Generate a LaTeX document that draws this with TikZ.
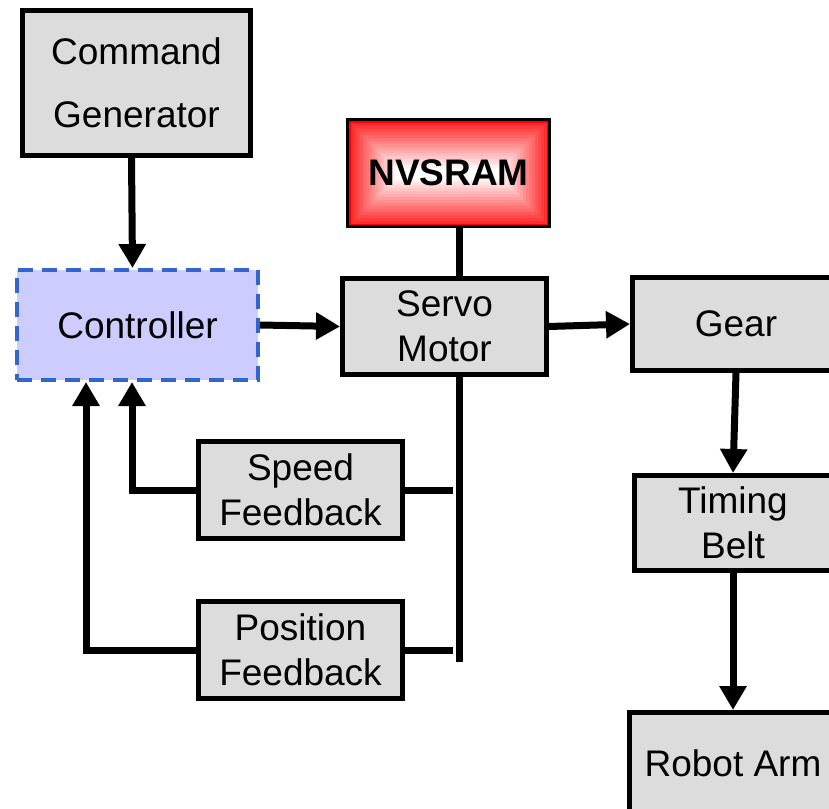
\documentclass[tikz,border=0pt]{standalone}
\usepackage{fontspec}
\setmainfont{Liberation Sans}
\usetikzlibrary{arrows.meta}
\definecolor{boxgray}{RGB}{220,220,220}
\definecolor{ctrlfill}{RGB}{204,204,255}
\definecolor{ctrlline}{RGB}{51,102,204}
\tikzset{%
  every block/.style={
    rectangle,
    draw,
    line width=5pt,
    fill=boxgray,
    align=center,
    font=\fontsize{37}{45}\selectfont
  },
  ctrl block/.style={
    every block,
    draw=ctrlline,
    line width=4pt,
    dash pattern=on 15pt off 9pt,
    fill=ctrlfill
  },
  ram block/.style={
    every block,
    line width=3pt,
    fill=red,
    font=\fontsize{37}{45}\selectfont\bfseries,
    path picture={
      \foreach \i in {1,...,16}
        {\pgfmathtruncatemacro\redpct{88-5.5*\i}
         \fill[red!\redpct!white]
           ([shift={(3*\i pt,-3*\i pt)}]path picture bounding box.north west)
           rectangle ([shift={(-3*\i pt,3*\i pt)}]path picture bounding box.south east);}
    }
  },
  wire/.style={line width=7pt},
  link/.style={line width=7pt, -{Triangle[length=24pt,width=26pt]}}
}

\begin{document}
\begin{tikzpicture}[x=1pt, y=-1pt]
\clip (0,0) rectangle (829,808);
% blocks
\node[every block, minimum width=228, minimum height=145, font=\fontsize{37}{63}\selectfont] (cmdgen) at (136.5,83) {Command\\Generator};
\node[ram block, minimum width=202, minimum height=107] (nvsram) at (448.5,173) {NVSRAM};
\node[ctrl block, minimum width=241, minimum height=110] (ctrl) at (137.5,325) {Controller};
\node[every block, minimum width=204, minimum height=96] (servo) at (444.5,326.5) {Servo\\Motor};
\node[every block, minimum width=207, minimum height=93] (gear) at (736,324) {Gear};
\node[every block, minimum width=197, minimum height=95] (belt) at (733,523) {Timing\\Belt};
\node[every block, minimum width=207, minimum height=101] (arm) at (733,763) {Robot Arm};
\node[every block, minimum width=204, minimum height=97] (speedfb) at (300.5,490) {Speed\\Feedback};
\node[every block, minimum width=204, minimum height=97] (posfb) at (300.5,650) {Position\\Feedback};
\coordinate (bustop) at (459,377);
\coordinate (busbot) at (459,662);
% forward path
\draw[link] ([xshift=-5pt]cmdgen.south) -- ([xshift=-5pt]ctrl.north);
\draw[link] (ctrl.east) -- (servo.west);
\draw[link] (servo.east) -- (gear.west);
\draw[link] (gear.south) -- (belt.north);
\draw[link] (belt.south) -- (arm.north);
% memory and feedback bus
\draw[wire] (nvsram.south -| bustop) -- (servo.north -| bustop);
\draw[wire] (servo.south -| bustop) -- (busbot);
\draw[wire] (speedfb.east) -- ([xshift=-6pt]speedfb.east -| bustop);
\draw[wire] (posfb.east) -- ([xshift=-6pt]posfb.east -| bustop);
\draw[link] (speedfb.west) -| ([xshift=-5.5pt]ctrl.south);
\draw[link] (posfb.west) -| ([xshift=-51.5pt]ctrl.south);
\end{tikzpicture}
\end{document}
